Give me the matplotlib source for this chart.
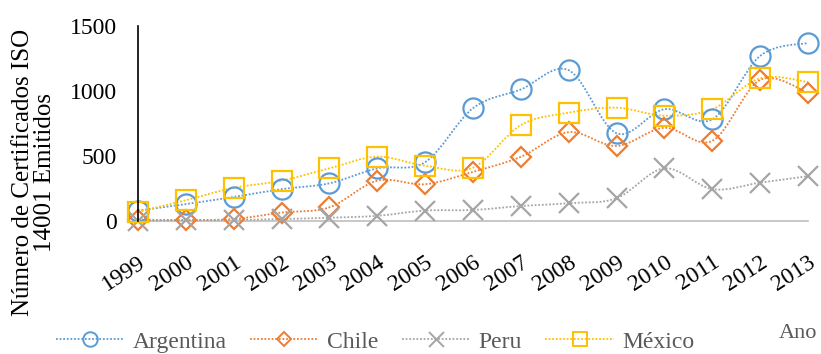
import matplotlib
matplotlib.use('Agg')

import matplotlib.pyplot as plt
from matplotlib.path import Path
from matplotlib.patches import PathPatch
from matplotlib.lines import Line2D
import numpy as np

years = ['1999', '2000', '2001', '2002', '2003', '2004', '2005', '2006',
         '2007', '2008', '2009', '2010', '2011', '2012', '2013']

argentina = [80, 130, 185, 245, 290, 405, 453, 868, 1012, 1160, 675, 860, 782, 1270, 1370]
chile = [10, 8, 15, 65, 105, 310, 283, 378, 494, 683, 577, 717, 617, 1085, 987]
peru = [3, 5, 8, 15, 25, 40, 80, 85, 115, 137, 175, 405, 245, 295, 345]
mexico = [70, 160, 255, 310, 405, 495, 425, 410, 738, 833, 872, 810, 860, 1098, 1070]

series = [
    ('Argentina', argentina, '#5B9BD5', 'o', 14.5),
    ('Chile', chile, '#ED7D31', 'D', 10),
    ('Peru', peru, '#A5A5A5', 'x', 15),
    ('México', mexico, '#FFC000', 's', 14),
]

plt.rcParams['font.family'] = ['Liberation Serif', 'DejaVu Serif']

fig = plt.figure(figsize=(8.21, 3.54), dpi=100)
ax = fig.add_axes([138 / 821, 133 / 354, 670 / 821, 195 / 354])

x = np.arange(len(years))


def smooth_path(xs, ys):
    # cubic bezier through every point, like a spreadsheet "smoothed line"
    pts = np.column_stack([xs, ys]).astype(float)
    verts = [pts[0]]
    codes = [Path.MOVETO]
    n = len(pts)
    for i in range(n - 1):
        p0 = pts[i - 1] if i > 0 else pts[i]
        p1 = pts[i]
        p2 = pts[i + 1]
        p3 = pts[i + 2] if i + 2 < n else pts[i + 1]
        c1 = p1 + (p2 - p0) / 6.0
        c2 = p2 - (p3 - p1) / 6.0
        verts += [c1, c2, p2]
        codes += [Path.CURVE4] * 3
    return Path(verts, codes)


handles = []
for name, vals, color, marker, ms in series:
    patch = PathPatch(smooth_path(x, vals), facecolor='none', edgecolor=color,
                      lw=1.3, linestyle=(0, (1, 1)), clip_on=False)
    ax.add_patch(patch)
    ax.plot(x, vals, linestyle='none', marker=marker, markersize=ms,
            markerfacecolor='none', markeredgecolor=color,
            markeredgewidth=1.6, clip_on=False)
    handles.append(Line2D([], [], color=color, lw=1.3, linestyle=(0, (1, 1)),
                          marker=marker, markersize=ms * 0.72,
                          markerfacecolor='none', markeredgecolor=color,
                          markeredgewidth=1.4, label=name))

ax.set_xlim(0, len(years) - 1)
ax.set_ylim(0, 1500)
ax.set_yticks([0, 500, 1000, 1500])
ax.set_xticks(x)
ax.set_xticklabels(years, rotation=33, ha='right', va='top',
                   rotation_mode='anchor', fontsize=17)
ax.tick_params(axis='y', length=0, pad=15, labelsize=17)
ax.tick_params(axis='x', length=0, pad=22)

for side in ['top', 'right']:
    ax.spines[side].set_visible(False)
ax.spines['left'].set_color('black')
ax.spines['left'].set_linewidth(1.2)
ax.spines['bottom'].set_color('#BFBFBF')
ax.spines['bottom'].set_linewidth(1.2)
ax.spines['bottom'].set_zorder(0)

fig.text(34 / 821, 1 - 172 / 354, 'Número de Certificados ISO\n14001 Emitidos',
         rotation=90, ha='center', va='center', multialignment='center',
         fontsize=18, linespacing=1.0)

leg = fig.legend(handles=handles, loc='center', ncol=4,
                 bbox_to_anchor=(375 / 821, 1 - 342 / 354), frameon=False,
                 fontsize=17, handlelength=2.9, handletextpad=0.35,
                 columnspacing=1.0, borderaxespad=0, borderpad=0)
for t in leg.get_texts():
    t.set_color('#595959')

fig.text(798 / 821, 1 - 334 / 354, 'Ano', ha='center', va='center',
         fontsize=16, color='#595959')

fig.savefig('out.png', dpi=100)
